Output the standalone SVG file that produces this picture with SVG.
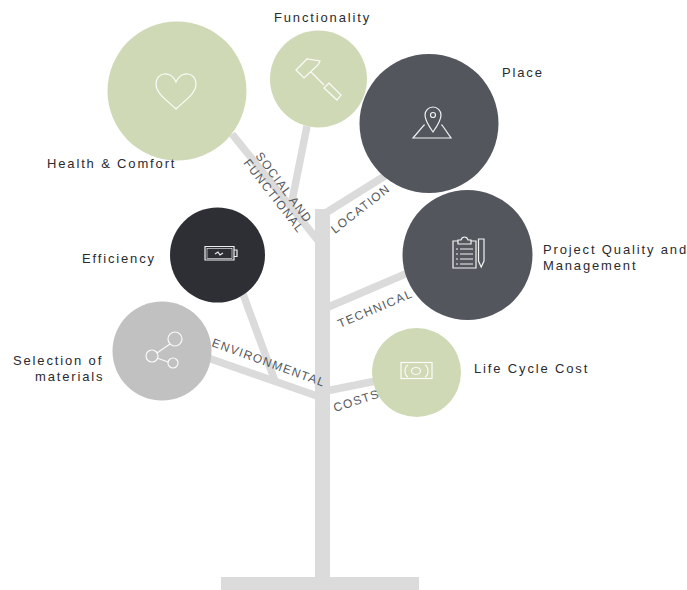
<svg xmlns="http://www.w3.org/2000/svg" width="687" height="590" viewBox="0 0 687 590">
<style>
text{font-family:"Liberation Sans",Arial,sans-serif}
.lbl{font-size:13px;letter-spacing:1.85px;fill:#2a2b2f}
.cat{font-size:12px;letter-spacing:1.35px;fill:#55585d}
.ic{fill:none;stroke:#fff;stroke-width:1.2;stroke-linejoin:miter;opacity:.92}
.br{stroke:#dbdbdb;fill:none;stroke-width:7.5}
.g{fill:#cfd9b5}.d{fill:#53575d}.k{fill:#2e2f34}.s{fill:#c1c1c1}
</style>
<rect width="687" height="590" fill="#fff"/>
<g id="connectors">
<rect x="315" y="209" width="15" height="370" fill="#dbdbdb"/>
<rect x="221" y="577" width="198" height="13" fill="#dbdbdb"/>
<path class="br" d="M232 134L320 243"/>
<path class="br" d="M307 126L291 206"/>
<path class="br" d="M388 174L324 214"/>
<path class="br" d="M410 272L326 308"/>
<path class="br" d="M243 294L275 381"/>
<path class="br" d="M208 358L320 397"/>
<path class="br" d="M376 381L326 391"/>
</g>
<g id="health"><circle class="g" cx="177" cy="91" r="69.5"/>
<path class="ic" d="M176 109C168 101 156 94 156 84C156 72 171 70 176 82C181 70 196 72 196 84C196 94 184 101 176 109Z"/>
<text class="lbl" x="47" y="168">Health &amp; Comfort</text></g>
<g id="functionality"><circle class="g" cx="318.500" cy="79" r="48.500"/>
<path class="ic" d="M296 70L307 59L320 61L318 65L304 78ZM311 72L324 85M324 88L329 83L341 95L337 100Z"/>
<text class="lbl" x="274" y="22">Functionality</text></g>
<g id="place"><circle class="d" cx="429" cy="123.500" r="69.500"/>
<path class="ic" d="M433 132C428 125 425 120 425 115A8 8 0 0 1 441 115C441 120 438 125 433 132Z"/><circle class="ic" cx="433" cy="115" r="2.500"/>
<path class="ic" d="M425 125H424L413 138H451L442 125H441"/>
<text class="lbl" x="502" y="77">Place</text></g>
<g id="project"><circle class="d" cx="467.500" cy="255" r="65"/>
<path class="ic" d="M458 241H453V268H476V241H471M458 244V240H461C462 236 467 236 468 240H471V244Z"/>
<path class="ic" d="M456 249H458M460 249H473M456 254H458M460 254H473M456 259H458M460 259H473M456 264H458M460 264H473" stroke-width="1"/>
<path class="ic" d="M478.500 239H484V261L481.200 267L478.500 261Z"/>
<text class="lbl" x="543" y="254">Project Quality and</text>
<text class="lbl" x="543" y="270">Management</text></g>
<g id="efficiency"><circle class="k" cx="217.500" cy="255" r="47.500"/>
<path class="ic" d="M205 246.500H234V260H205ZM234 250H237V256.500H234Z"/>
<rect x="207" y="248.500" width="25" height="10" fill="none" stroke="#fff" stroke-width=".6"/>
<path class="ic" d="M215 254L218 252L220 255L223 253" stroke-width="1"/>
<text class="lbl" x="82" y="263">Efficiency</text></g>
<g id="materials"><circle class="s" cx="162" cy="351" r="49.500"/>
<circle class="ic" cx="175" cy="339" r="7"/><circle class="ic" cx="152" cy="356" r="6"/><circle class="ic" cx="173" cy="363" r="5"/>
<path class="ic" d="M170 344L157 353M157 358L168 362"/>
<text class="lbl" x="13" y="365">Selection of</text>
<text class="lbl" x="35" y="381">materials</text></g>
<g id="lifecycle"><circle class="g" cx="416.500" cy="372.500" r="44.500"/>
<rect class="ic" x="401" y="362.500" width="31" height="16"/>
<ellipse class="ic" cx="416" cy="371" rx="4.500" ry="3.500"/>
<path class="ic" d="M408 365C404 367 404 375 408 377M425 365C429 367 429 375 425 377"/>
<text class="lbl" x="474" y="373">Life Cycle Cost</text></g>
<g id="category-labels">
<text class="cat" transform="translate(255 156) rotate(53)">SOCIAL AND</text>
<text class="cat" transform="translate(243 163) rotate(52)">FUNCTIONAL</text>
<text class="cat" transform="translate(335 234) rotate(-38)">LOCATION</text>
<text class="cat" transform="translate(340 328) rotate(-23)">TECHNICAL</text>
<text class="cat" transform="translate(211 346) rotate(20)">ENVIRONMENTAL</text>
<text class="cat" transform="translate(335 412) rotate(-18)">COSTS</text>
</g>
</svg>
